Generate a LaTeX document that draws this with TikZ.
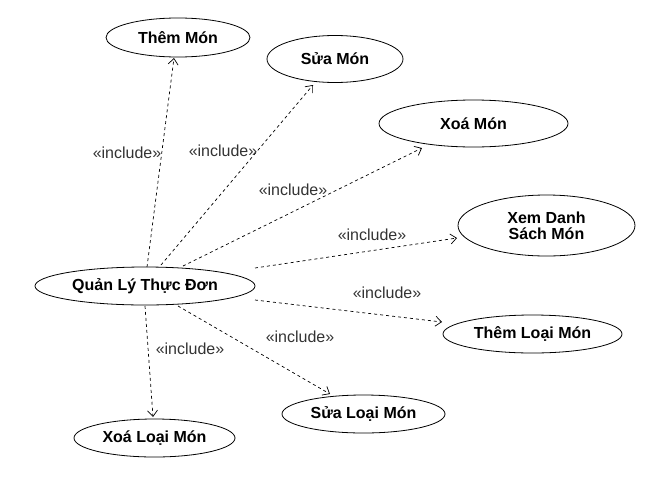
\documentclass[tikz,border=0pt]{standalone}
\usepackage{fontspec}
\setmainfont{Liberation Sans}
\usetikzlibrary{shapes.geometric,arrows.meta}
\definecolor{lbl}{HTML}{333333}
\tikzset{
  uc/.style={draw=black, line width=0.8pt, ellipse, inner sep=0pt, align=center,
    font=\fontsize{16}{18}\selectfont\bfseries},
  inc/.style={draw=black, line width=0.7pt, dash pattern=on 3pt off 3pt,
    -{Straight Barb[length=6pt,width=10pt,line width=0.7pt]}},
  inclbl/.style={text=lbl, inner sep=0pt, font=\fontsize{16}{18}\selectfont}
}
\begin{document}
\begin{tikzpicture}[x=1pt,y=-1pt]
\useasboundingbox (0,0) rectangle (655,482);
% use cases
\node[uc, minimum width=144, minimum height=39] (tm) at (178,37.5) {Thêm Món};
\node[uc, minimum width=136, minimum height=47] (sm) at (335,59) {Sửa Món};
\node[uc, minimum width=189, minimum height=47] (xm) at (473.5,123.5) {Xoá Món};
\node[uc, minimum width=177, minimum height=61] (xd) at (546.5,225.5) {Xem Danh\\[-2pt]Sách Món};
\node[uc, minimum width=220, minimum height=38] (q) at (145,286) {Quản Lý Thực Đơn};
\node[uc, minimum width=179, minimum height=38] (tl) at (532.5,334) {Thêm Loại Món};
\node[uc, minimum width=163, minimum height=38] (sl) at (363.5,414) {Sửa Loại Món};
\node[uc, minimum width=161, minimum height=38] (xl) at (154.5,438) {Xoá Loại Món};
% include connectors
\draw[inc] ([shift={(2,-19)}]q.center) -- ([shift={(-4,20.5)}]tm.center);
\draw[inc] ([shift={(16,-21)}]q.center) -- ([shift={(-22,26)}]sm.center);
\draw[inc] ([shift={(38,-20)}]q.center) -- ([shift={(-51.5,24.5)}]xm.center);
\draw[inc] ([shift={(110,-18)}]q.center) -- ([shift={(-89.5,12.5)}]xd.center);
\draw[inc] ([shift={(110,14)}]q.center) -- ([shift={(-90.5,-12)}]tl.center);
\draw[inc] ([shift={(33,20)}]q.center) -- ([shift={(-33.5,-20)}]sl.center);
\draw[inc] ([shift={(0,20)}]q.center) -- ([shift={(-1.5,-21)}]xl.center);
% labels
\node[inclbl] (l1) at (127,153) {«include»};
\node[inclbl] (l2) at (223,151) {«include»};
\node[inclbl] (l3) at (293,190) {«include»};
\node[inclbl] (l4) at (372,235) {«include»};
\node[inclbl] (l5) at (387,293) {«include»};
\node[inclbl] (l6) at (300,337) {«include»};
\node[inclbl] (l7) at (190,349) {«include»};
\end{tikzpicture}
\end{document}
